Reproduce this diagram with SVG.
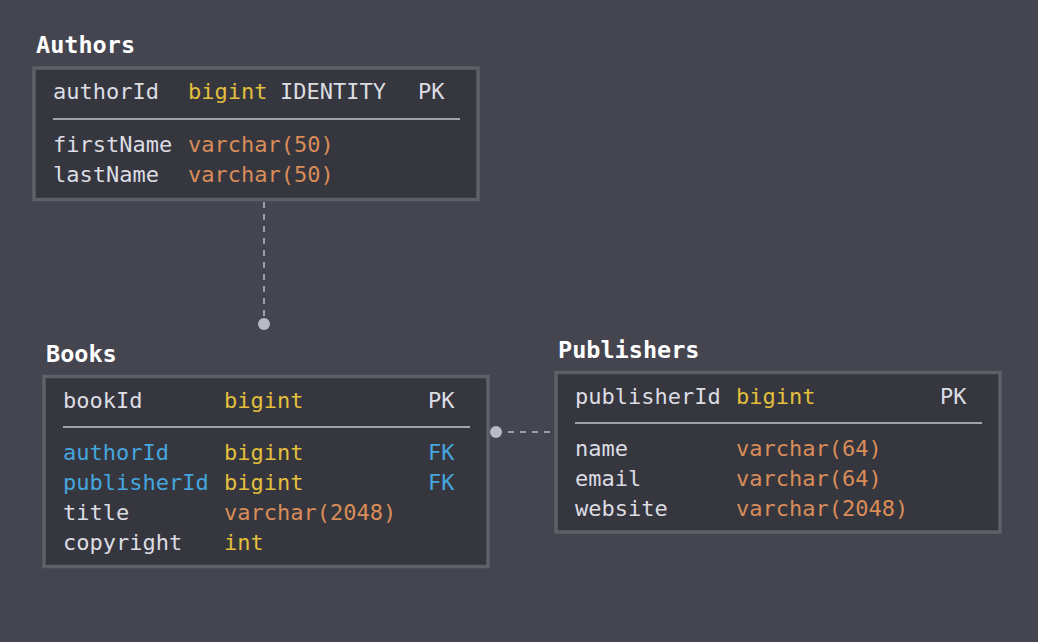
<svg xmlns="http://www.w3.org/2000/svg" width="1038" height="642" viewBox="0 0 1038 642">
<style>
.bg{fill:#45454f}
.box{fill:#36363f;stroke:#5f5f6a;stroke-width:3.5}
.sep{stroke:#a2a2ab;stroke-width:2}
.title{font-family:"DejaVu Sans Mono","Liberation Mono",monospace;font-weight:bold;font-size:23.5px;fill:#ffffff}
text.r{font-family:"DejaVu Sans Mono","Liberation Mono",monospace;font-size:22px}
.n{fill:#dcdde3}
.y{fill:#e2bf3c}
.o{fill:#d98d58}
.b{fill:#45a6de}
.conn{stroke:#9d9da8;stroke-width:2;stroke-dasharray:6 6;fill:none}
.dot{fill:#b9b9c4}
</style>
<rect class="bg" x="0" y="0" width="1038" height="642"/>
<g id="connectors">
<line class="conn" x1="264" y1="202" x2="264" y2="324"/>
<circle class="dot" cx="264" cy="324" r="6"/>
<line class="conn" x1="496" y1="432" x2="555" y2="432"/>
<circle class="dot" cx="496" cy="432" r="6"/>
</g>
<g id="authors">
<text class="title" x="36" y="53">Authors</text>
<rect class="box" x="34" y="68" width="444" height="131.5"/>
<text class="r n" x="53" y="99">authorId</text>
<text class="r y" x="188" y="99">bigint</text>
<text class="r n" x="280" y="99">IDENTITY</text>
<text class="r n" x="418" y="99">PK</text>
<line class="sep" x1="53" y1="119" x2="460" y2="119"/>
<text class="r n" x="53" y="152">firstName</text>
<text class="r o" x="188" y="152">varchar(50)</text>
<text class="r n" x="53" y="182">lastName</text>
<text class="r o" x="188" y="182">varchar(50)</text>
</g>
<g id="books">
<text class="title" x="46" y="361.5">Books</text>
<rect class="box" x="44" y="376.5" width="444" height="190"/>
<text class="r n" x="63" y="408">bookId</text>
<text class="r y" x="224" y="408">bigint</text>
<text class="r n" x="428" y="408">PK</text>
<line class="sep" x1="63" y1="427" x2="470" y2="427"/>
<text class="r b" x="63" y="460">authorId</text>
<text class="r y" x="224" y="460">bigint</text>
<text class="r b" x="428" y="460">FK</text>
<text class="r b" x="63" y="490">publisherId</text>
<text class="r y" x="224" y="490">bigint</text>
<text class="r b" x="428" y="490">FK</text>
<text class="r n" x="63" y="520">title</text>
<text class="r o" x="224" y="520">varchar(2048)</text>
<text class="r n" x="63" y="550">copyright</text>
<text class="r y" x="224" y="550">int</text>
</g>
<g id="publishers">
<text class="title" x="558" y="357.5">Publishers</text>
<rect class="box" x="556" y="372.5" width="444" height="159.5"/>
<text class="r n" x="575" y="403.5">publisherId</text>
<text class="r y" x="736" y="403.5">bigint</text>
<text class="r n" x="940" y="403.5">PK</text>
<line class="sep" x1="575" y1="423" x2="982" y2="423"/>
<text class="r n" x="575" y="456">name</text>
<text class="r o" x="736" y="456">varchar(64)</text>
<text class="r n" x="575" y="486">email</text>
<text class="r o" x="736" y="486">varchar(64)</text>
<text class="r n" x="575" y="516">website</text>
<text class="r o" x="736" y="516">varchar(2048)</text>
</g>
</svg>
